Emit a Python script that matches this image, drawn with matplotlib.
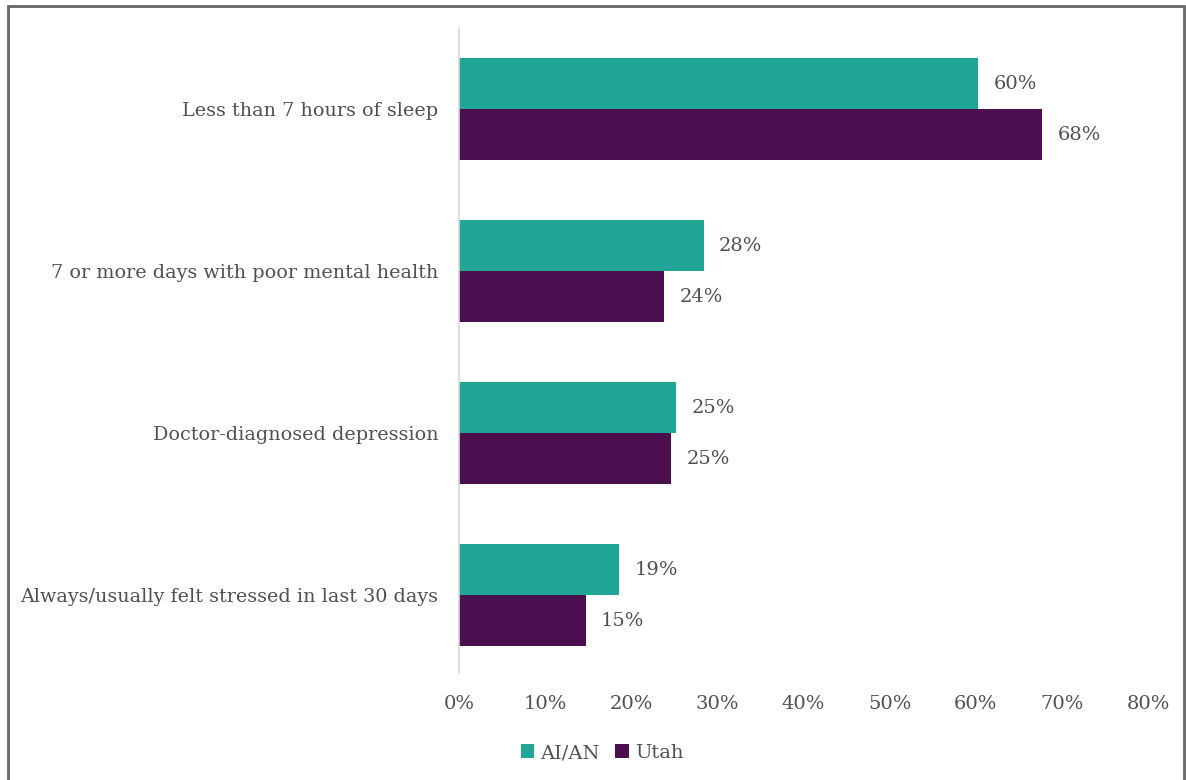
import matplotlib
matplotlib.use("Agg")
import matplotlib.pyplot as plt
import numpy as np
from matplotlib.patches import Rectangle

categories = [
    "Less than 7 hours of sleep",
    "7 or more days with poor mental health",
    "Doctor-diagnosed depression",
    "Always/usually felt stressed in last 30 days",
]
aian = [60.3, 28.4, 25.2, 18.6]
utah = [67.7, 23.8, 24.6, 14.7]
series_names = ["AI/AN", "Utah"]
xticks = [0, 10, 20, 30, 40, 50, 60, 70, 80]

TEAL = "#21a594"
PURPLE = "#4b0f50"
TEXT = "#505050"

plt.rcParams["font.family"] = ["DejaVu Serif"]

fig = plt.figure(figsize=(11.86, 7.8), dpi=100)
ax = fig.add_axes([459 / 1186, 1 - 673 / 780, (1148 - 459) / 1186, (673 - 28) / 780])

y = np.arange(len(categories))
h = 0.315
ax.barh(y - h / 2, aian, height=h, color=TEAL, label=series_names[0])
ax.barh(y + h / 2, utah, height=h, color=PURPLE, label=series_names[1])

for yi, a, u in zip(y, aian, utah):
    ax.text(a + 1.8, yi - h / 2, f"{a:.0f}%", va="center", ha="left", fontsize=14, color=TEXT)
    ax.text(u + 1.8, yi + h / 2, f"{u:.0f}%", va="center", ha="left", fontsize=14, color=TEXT)

ax.set_ylim(3.48, -0.5)
ax.set_xlim(0, 80)
ax.set_yticks(y)
ax.set_yticklabels(categories, fontsize=13.8, color=TEXT)
ax.set_xticks(xticks)
ax.set_xticklabels([f"{t}%" for t in xticks], fontsize=14, color=TEXT)
ax.tick_params(length=0, pad=15, axis="y")
ax.tick_params(length=0, pad=16, axis="x")

for s in ["top", "right", "bottom"]:
    ax.spines[s].set_visible(False)
ax.spines["left"].set_color("#d9d9d9")
ax.spines["left"].set_linewidth(1.2)

fig.legend(loc="center", bbox_to_anchor=(602 / 1186, 1 - 753 / 780), ncol=2, frameon=False,
           fontsize=14, labelcolor=TEXT, handlelength=0.7, handleheight=0.7,
           handletextpad=0.3, columnspacing=0.8)

# outer frame, open at the bottom
fig.add_artist(Rectangle((8 / 1186, -0.05), (1184 - 8) / 1186, 1.05 - 6 / 780,
                         transform=fig.transFigure, fill=False, edgecolor="#666666", linewidth=2))

fig.savefig("out.png", dpi=100)
